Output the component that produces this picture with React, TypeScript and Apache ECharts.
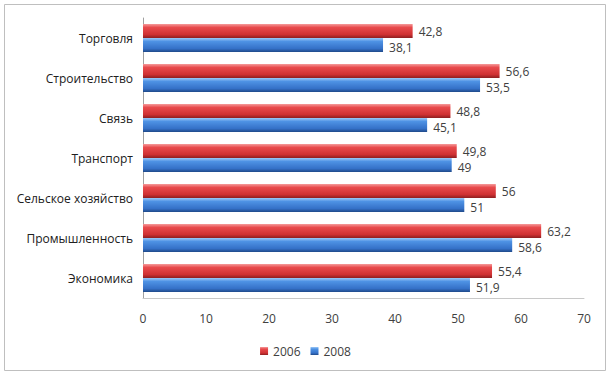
import React, { useEffect, useRef } from "react";
import * as echarts from "echarts";

const categories = ["Торговля", "Строительство", "Связь", "Транспорт", "Сельское хозяйство", "Промышленность", "Экономика"];
const values2006 = [42.8, 56.6, 48.8, 49.8, 56, 63.2, 55.4];
const values2008 = [38.1, 53.5, 45.1, 49, 51, 58.6, 51.9];
const xTicks = [0, 10, 20, 30, 40, 50, 60, 70];

const FONT = "'Open Sans', sans-serif";

export default function App() {
  const ref = useRef<HTMLDivElement>(null);
  useEffect(() => {
    if (!ref.current) return;
    const chart = echarts.init(ref.current, null, { renderer: "svg" });
    const grad = (stops: string[]) =>
      new echarts.graphic.LinearGradient(0, 0, 0, 1, [
        { offset: 0, color: stops[0] },
        { offset: 0.25, color: stops[1] },
        { offset: 0.75, color: stops[2] },
        { offset: 1, color: stops[3] },
      ]);
    const red = grad(["#f59a9a", "#e84a4c", "#cf3133", "#8e1f20"]);
    const blue = grad(["#9cc8f7", "#4e92e4", "#3571c8", "#1f4a8a"]);
    const fmt = (p: any) => String(p.value).replace(".", ",");
    const labelBase = {
      show: true,
      position: "right",
      distance: 6,
      color: "#404040",
      fontSize: 12,
      lineHeight: 12,
      fontFamily: FONT,
      formatter: fmt,
    };
    chart.setOption({
      animation: false,
      textStyle: { fontFamily: FONT },
      graphic: [
        {
          type: "rect",
          shape: { x: 4.5, y: 4.5, width: 601, height: 366 },
          style: { fill: "#ffffff", stroke: "#bfbfbf", lineWidth: 1 },
          z: -10,
        },
      ],
      grid: { left: 143, right: 27, top: 18, bottom: 78 },
      legend: {
        bottom: 14,
        left: "center",
        itemWidth: 8,
        itemHeight: 8,
        itemGap: 10,
        icon: "rect",
        textStyle: { color: "#404040", fontSize: 12, fontFamily: FONT },
        data: ["2006", "2008"],
      },
      xAxis: {
        type: "value",
        min: 0,
        max: 70,
        interval: 10,
        axisLine: { show: true, lineStyle: { color: "#c8c8c8" } },
        axisTick: { show: false },
        splitLine: { show: false },
        axisLabel: {
          color: "#404040",
          fontSize: 12,
          margin: 14,
          fontFamily: FONT,
          formatter: (v: number) => (xTicks.includes(v) ? String(v) : ""),
        },
      },
      yAxis: {
        type: "category",
        inverse: true,
        data: categories,
        axisLine: { show: true, lineStyle: { color: "#a0a0a0" } },
        axisTick: { show: false },
        axisLabel: { color: "#202020", fontSize: 12, margin: 10, fontFamily: FONT },
      },
      series: [
        {
          name: "2006",
          type: "bar",
          data: values2006,
          barWidth: 14,
          barGap: "0%",
          itemStyle: { color: red },
          label: { ...labelBase, offset: [0, 0] },
        },
        {
          name: "2008",
          type: "bar",
          data: values2008,
          barWidth: 14,
          barGap: "0%",
          itemStyle: { color: blue },
          label: { ...labelBase, offset: [0, 2] },
        },
      ],
      color: ["#d63a3c", "#3a78d0"],
    });
    return () => chart.dispose();
  }, []);
  return <div ref={ref} style={{ width: 611, height: 376, position: "absolute", left: 0, top: 0 }} />;
}
